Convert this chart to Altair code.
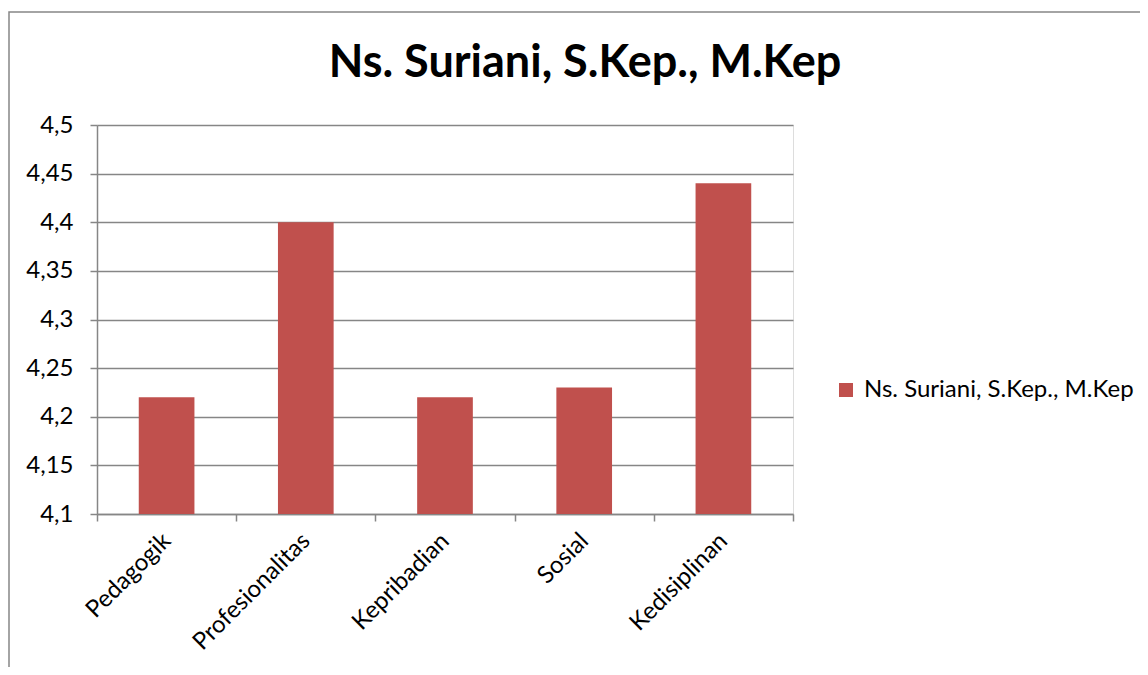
import altair as alt
import pandas as pd

categories = ["Pedagogik", "Profesionalitas", "Kepribadian", "Sosial", "Kedisiplinan"]
values = [4.22, 4.40, 4.22, 4.23, 4.44]
series_name = "Ns. Suriani, S.Kep., M.Kep"
y_ticks = [4.1, 4.15, 4.2, 4.25, 4.3, 4.35, 4.4, 4.45, 4.5]

df = pd.DataFrame({"kategori": categories, "nilai": values, "seri": [series_name] * len(categories)})

FONT = "Lato"
GRAY = "#868686"
W, H = 696, 389
PAD_L, PAD_T = 89, 117
FS = 24

bars = alt.Chart(df).mark_bar(width={"band": 0.4}, color="#C0504D").encode(
    x=alt.X(
        "kategori:N",
        sort=categories,
        scale=alt.Scale(paddingInner=0, paddingOuter=0),
        axis=alt.Axis(
            title=None,
            labelAngle=-45,
            labelAlign="right",
            labelBaseline="middle",
            labelPadding=16,
            labelFontSize=FS,
            labelFont=FONT,
            labelColor="#000000",
            tickBand="extent",
            tickSize=7,
            tickColor=GRAY,
            tickWidth=1.5,
            domainColor=GRAY,
            domainWidth=1.5,
            grid=False,
        ),
    ),
    y=alt.Y(
        "nilai:Q",
        scale=alt.Scale(domain=[4.1, 4.5], zero=False, nice=False),
        axis=alt.Axis(
            title=None,
            values=y_ticks,
            labelExpr="replace(toString(datum.value), '.', ',')",
            labelFontSize=FS,
            labelFont=FONT,
            labelColor="#000000",
            labelPadding=17,
            tickSize=7,
            tickColor=GRAY,
            tickWidth=1.5,
            domainColor=GRAY,
            domainWidth=1.5,
            grid=True,
            gridColor=GRAY,
            gridWidth=1.5,
        ),
    ),
    y2=alt.datum(4.1),
    color=alt.Color(
        "seri:N",
        scale=alt.Scale(range=["#C0504D"]),
        legend=alt.Legend(
            title=None,
            orient="none",
            legendX=737,
            legendY=253,
            symbolType="square",
            symbolSize=196,
            symbolStrokeWidth=0,
            symbolOpacity=1,
            labelFontSize=FS,
            labelFont=FONT,
            labelColor="#000000",
            labelOffset=6,
            labelLimit=400,
        ),
    ),
)

title_df = pd.DataFrame({"t": [series_name]})
title = alt.Chart(title_df).mark_text(
    font=FONT, fontSize=45, fontWeight="bold", align="center", baseline="alphabetic", color="#000000"
).encode(text="t:N", x=alt.value(488), y=alt.value(-48))

border_df = pd.DataFrame({"b": [1]})
border = alt.Chart(border_df).mark_rect(fill=None, stroke=GRAY, strokeWidth=1.5).encode(
    x=alt.value(-88), x2=alt.value(1200), y=alt.value(-113), y2=alt.value(700)
)

chart = alt.layer(border, bars, title).properties(
    width=W,
    height=H,
    autosize=alt.AutoSizeParams(type="none"),
    padding={"left": PAD_L, "top": PAD_T, "right": 1132 - PAD_L - W, "bottom": 659 - PAD_T - H},
).configure_view(stroke=None).configure(background="white")

chart.save("out.html", embed_options={"renderer": "svg", "actions": False})
